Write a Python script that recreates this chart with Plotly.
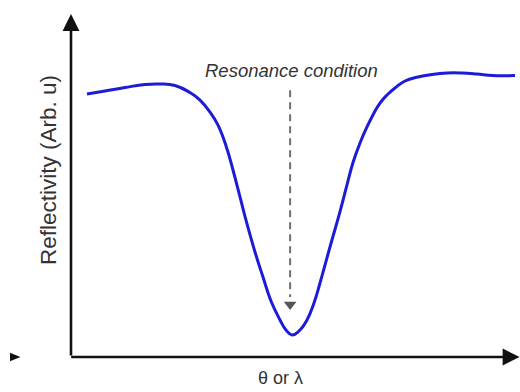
import plotly.graph_objects as go

# Reflectivity curve (arbitrary units)
theta = [3.56, 7.57, 12.03, 16.48, 19.82, 23.16, 26.50, 28.73, 30.96, 32.74, 34.52,
         36.08, 37.64, 39.20, 40.98, 42.76, 44.54, 46.55, 47.88, 49.22, 50.78, 52.56,
         54.12, 55.46, 57.68, 59.91, 61.47, 62.81, 64.37, 65.92, 67.48, 68.82, 70.38,
         72.16, 74.39, 77.28, 80.40, 83.74, 87.08, 90.42, 93.99, 98.89]
reflectivity = [76.68, 77.55, 78.57, 79.45, 79.59, 79.15, 77.10, 74.90, 71.40, 67.60, 61.60,
                54.52, 46.65, 38.78, 30.61, 23.32, 16.33, 10.79, 7.87, 6.41, 7.58, 10.79,
                15.74, 21.57, 32.07, 42.40, 50.20, 56.70, 62.39, 67.06, 71.14, 74.05, 76.38,
                78.43, 80.47, 81.63, 82.36, 82.80, 82.80, 82.51, 82.07, 82.07]

# Resonance marker
resonance_x = [48.8, 48.8]
resonance_y = [77.8, 17.5]
resonance_tip = [15.3]

x_title = "θ or λ"
y_title = "Reflectivity (Arb. u)"
label = "Resonance condition"

fig = go.Figure()

fig.add_trace(go.Scatter(
    x=theta, y=reflectivity, mode="lines",
    line=dict(color="#1c1cd6", width=3, shape="spline", smoothing=1.3),
    hoverinfo="skip", showlegend=False))

fig.add_trace(go.Scatter(
    x=resonance_x, y=resonance_y, mode="lines",
    line=dict(color="#6e6e6e", width=2, dash="7px,5px"),
    hoverinfo="skip", showlegend=False))

fig.add_trace(go.Scatter(
    x=[resonance_x[0]], y=resonance_tip, mode="markers",
    marker=dict(symbol="triangle-down", size=11, color="#555555"),
    hoverinfo="skip", showlegend=False))

# axes arrows
fig.add_annotation(x=0, y=100, ax=0, ay=0, xref="x", yref="y", axref="x", ayref="y",
                   showarrow=True, arrowhead=2, arrowsize=1.3, arrowwidth=2.6,
                   arrowcolor="#111111", text="")
fig.add_annotation(x=99.9, y=0, ax=-0.3, ay=0, xref="x", yref="y", axref="x", ayref="y",
                   showarrow=True, arrowhead=2, arrowsize=1.3, arrowwidth=2.6,
                   arrowcolor="#111111", text="")

# stray arrowhead left of the origin
fig.add_shape(type="path", xref="paper", yref="paper",
              path="M -0.1359,0.0125 L -0.1125,0 L -0.1359,-0.0125 Z",
              fillcolor="#111111", line=dict(width=0))

fig.add_annotation(x=49.2, y=83.5, xref="x", yref="y", text=label, showarrow=False,
                   font=dict(family="Liberation Sans, Arial", size=18.5, color="#333333",
                             style="italic"))
fig.add_annotation(x=(280 - 71) / 449, y=-(378 - 357) / 343, xref="paper", yref="paper",
                   xanchor="center", yanchor="middle",
                   text=x_title, showarrow=False,
                   font=dict(family="Liberation Sans, Arial", size=18, color="#333333"))
fig.add_annotation(x=-(71 - 48) / 449, y=(357 - 170) / 343, xref="paper", yref="paper",
                   xanchor="center", yanchor="middle",
                   text=y_title, showarrow=False, textangle=-90,
                   font=dict(family="Liberation Sans, Arial", size=22.5, color="#333333"))

fig.update_layout(
    width=520, height=392,
    margin=dict(l=71, r=0, t=14, b=35),
    paper_bgcolor="white", plot_bgcolor="white",
    xaxis=dict(range=[0, 100], visible=False, fixedrange=True),
    yaxis=dict(range=[0, 100], visible=False, fixedrange=True),
    showlegend=False,
)

fig.write_html("out.html")
